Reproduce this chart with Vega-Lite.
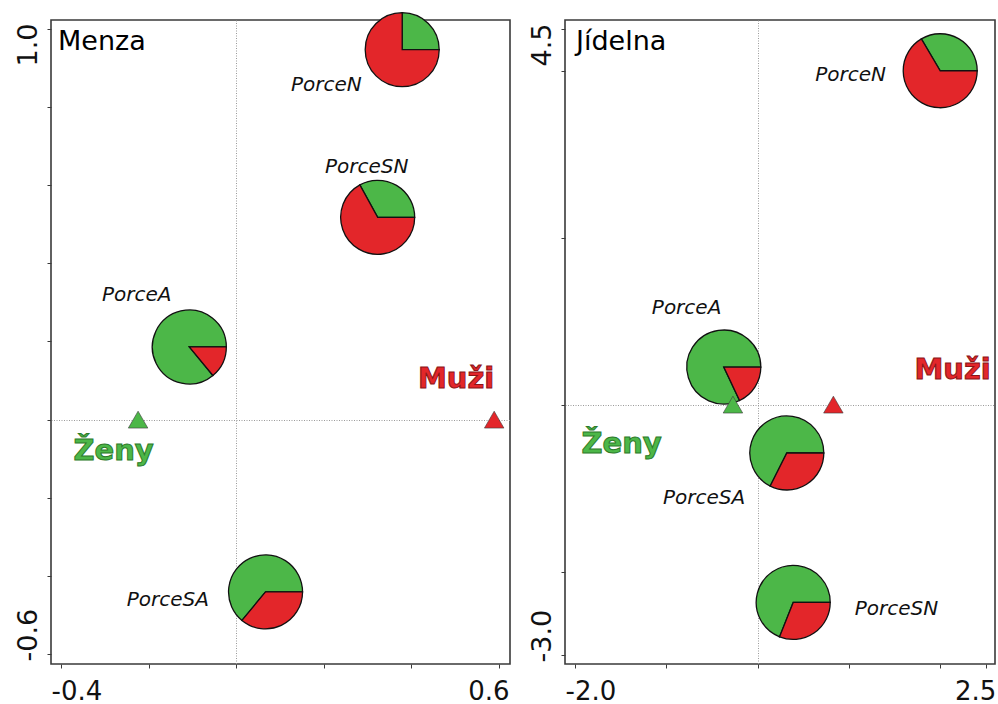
{
  "$schema": "https://vega.github.io/schema/vega-lite/v6.json",
  "background": "white",
  "padding": {"left": 13, "top": 9, "right": 0, "bottom": 0},
  "spacing": 55,
  "bounds": "flush",
  "datasets": {
    "pies": [
      {"panel": "Menza", "item": "PorceN", "x": 0.379, "y": 0.947, "sex": "Ženy", "share": 0.25},
      {"panel": "Menza", "item": "PorceN", "x": 0.379, "y": 0.947, "sex": "Muži", "share": 0.75},
      {"panel": "Menza", "item": "PorceSN", "x": 0.323, "y": 0.518, "sex": "Ženy", "share": 0.33},
      {"panel": "Menza", "item": "PorceSN", "x": 0.323, "y": 0.518, "sex": "Muži", "share": 0.67},
      {"panel": "Menza", "item": "PorceA", "x": -0.107, "y": 0.186, "sex": "Ženy", "share": 0.86},
      {"panel": "Menza", "item": "PorceA", "x": -0.107, "y": 0.186, "sex": "Muži", "share": 0.14},
      {"panel": "Menza", "item": "PorceSA", "x": 0.067, "y": -0.441, "sex": "Ženy", "share": 0.64},
      {"panel": "Menza", "item": "PorceSA", "x": 0.067, "y": -0.441, "sex": "Muži", "share": 0.36},
      {"panel": "Jídelna", "item": "PorceN", "x": 2.0, "y": 4.0, "sex": "Ženy", "share": 0.335},
      {"panel": "Jídelna", "item": "PorceN", "x": 2.0, "y": 4.0, "sex": "Muži", "share": 0.665},
      {"panel": "Jídelna", "item": "PorceA", "x": -0.37, "y": 0.45, "sex": "Ženy", "share": 0.82},
      {"panel": "Jídelna", "item": "PorceA", "x": -0.37, "y": 0.45, "sex": "Muži", "share": 0.18},
      {"panel": "Jídelna", "item": "PorceSA", "x": 0.32, "y": -0.58, "sex": "Ženy", "share": 0.676},
      {"panel": "Jídelna", "item": "PorceSA", "x": 0.32, "y": -0.58, "sex": "Muži", "share": 0.324},
      {"panel": "Jídelna", "item": "PorceSN", "x": 0.39, "y": -2.37, "sex": "Ženy", "share": 0.69},
      {"panel": "Jídelna", "item": "PorceSN", "x": 0.39, "y": -2.37, "sex": "Muži", "share": 0.31}
    ],
    "sexes": [
      {"panel": "Menza", "sex": "Ženy", "x": -0.224, "y": 0},
      {"panel": "Menza", "sex": "Muži", "x": 0.589, "y": 0},
      {"panel": "Jídelna", "sex": "Ženy", "x": -0.27, "y": 0},
      {"panel": "Jídelna", "sex": "Muži", "x": 0.83, "y": 0}
    ],
    "pieLabels": [
      {"panel": "Menza", "text": "PorceN", "x": 0.206, "y": 0.841},
      {"panel": "Menza", "text": "PorceSN", "x": 0.298, "y": 0.631},
      {"panel": "Menza", "text": "PorceA", "x": -0.227, "y": 0.304},
      {"panel": "Menza", "text": "PorceSA", "x": -0.156, "y": -0.477},
      {"panel": "Jídelna", "text": "PorceN", "x": 1.019, "y": 3.877},
      {"panel": "Jídelna", "text": "PorceA", "x": -0.778, "y": 1.085},
      {"panel": "Jídelna", "text": "PorceSA", "x": -0.586, "y": -1.19},
      {"panel": "Jídelna", "text": "PorceSN", "x": 1.52, "y": -2.52}
    ],
    "sexLabels": [
      {"panel": "Menza", "sex": "Ženy", "x": -0.28, "y": -0.103},
      {"panel": "Menza", "sex": "Muži", "x": 0.502, "y": 0.081},
      {"panel": "Jídelna", "sex": "Ženy", "x": -1.49, "y": -0.58},
      {"panel": "Jídelna", "sex": "Muži", "x": 2.136, "y": 0.307}
    ],
    "panelNames": [
      {"panel": "Menza", "x": -0.4068, "y": 0.9462},
      {"panel": "Jídelna", "x": -1.989, "y": 4.2484}
    ]
  },
  "hconcat": [
    {
      "width": 459,
      "height": 644,
      "encoding": {
        "x": {
          "field": "x", "type": "quantitative", "title": null,
          "scale": {"domain": [-0.42283, 0.62511], "nice": false, "zero": false},
          "axis": {
            "values": [-0.4, -0.2, 0, 0.2, 0.4, 0.6],
            "labelExpr": "datum.value === -0.4 ? '-0.4' : datum.value === 0.6 ? '0.6' : ''",
            "labelFlush": 12, "labelFlushOffset": 10, "labelPadding": 10, "labelFontSize": 26
          }
        },
        "y": {
          "field": "y", "type": "quantitative", "title": null,
          "scale": {"domain": [-0.6256, 1.02304], "nice": false, "zero": false},
          "axis": {
            "values": [1, 0.8, 0.6, 0.4, 0.2, 0, -0.2, -0.4, -0.6],
            "labelExpr": "datum.value === 1 ? '1.0' : datum.value === -0.6 ? '-0.6' : ''",
            "labelAngle": 270, "labelFlush": false, "labelBaseline": "alphabetic", "labelPadding": 11,
            "labelAlign": {"condition": {"test": "datum.value < 0", "value": "left"}, "value": "right"},
            "labelOffset": {"condition": {"test": "datum.value < 0", "value": 7}, "value": -6}
          }
        }
      },
      "layer": [
        {
          "data": {"name": "pies"},
          "transform": [
            {"filter": "datum.panel === 'Menza'"},
            {"stack": "share", "groupby": ["item"], "offset": "normalize", "sort": [{"field": "sex", "order": "descending"}], "as": ["s0", "s1"]}
          ],
          "mark": {"type": "arc", "radius": 37, "stroke": "#111111", "strokeWidth": 1.3},
          "encoding": {
            "theta": {"field": "s0", "type": "quantitative", "stack": null, "scale": {"domain": [0, 1], "range": [1.5707963, -4.712389], "zero": false, "nice": false}},
            "theta2": {"field": "s1"},
            "color": {"field": "sex", "type": "nominal", "scale": {"domain": ["Ženy", "Muži"], "range": ["#4cb748", "#e3262a"]}, "legend": null}
          }
        },
        {
          "data": {"name": "sexes"},
          "transform": [{"filter": "datum.panel === 'Menza'"}],
          "mark": {"type": "point", "shape": "triangle-up", "filled": true, "size": 380, "opacity": 1, "stroke": "#3a3a3a", "strokeWidth": 0.6},
          "encoding": {
            "color": {"field": "sex", "type": "nominal", "legend": null}
          }
        },
        {
          "data": {"name": "pieLabels"},
          "transform": [{"filter": "datum.panel === 'Menza'"}],
          "mark": {"type": "text", "font": "DejaVu Sans", "fontStyle": "italic", "fontSize": 20, "align": "center", "baseline": "alphabetic", "color": "#111111"},
          "encoding": {"text": {"field": "text"}}
        },
        {
          "data": {"name": "sexLabels"},
          "transform": [{"filter": "datum.panel === 'Menza'"}],
          "mark": {"type": "text", "font": "DejaVu Sans", "fontWeight": "bold", "fontSize": 29, "align": "center", "baseline": "alphabetic", "strokeWidth": 1},
          "encoding": {
            "text": {"field": "sex"},
            "color": {"field": "sex", "type": "nominal", "legend": null},
            "stroke": {"field": "sex", "type": "nominal", "scale": {"domain": ["Ženy", "Muži"], "range": ["#2c7a2a", "#8a1517"]}, "legend": null}
          }
        },
        {
          "data": {"name": "panelNames"},
          "transform": [{"filter": "datum.panel === 'Menza'"}],
          "mark": {"type": "text", "font": "DejaVu Sans", "fontSize": 27, "align": "left", "baseline": "alphabetic", "color": "#000000"},
          "encoding": {"text": {"field": "panel"}}
        }
      ]
    },
    {
      "width": 430,
      "height": 644,
      "encoding": {
        "x": {
          "field": "x", "type": "quantitative", "title": null,
          "scale": {"domain": [-2.1095, 2.6002], "nice": false, "zero": false},
          "axis": {
            "values": [-2, -1, 0, 1, 2, 2.5],
            "labelExpr": "datum.value === -2 ? '-2.0' : datum.value === 2.5 ? '2.5' : ''",
            "labelFlush": 12, "labelFlushOffset": 10, "labelPadding": 10, "labelFontSize": 26
          }
        },
        "y": {
          "field": "y", "type": "quantitative", "title": null,
          "scale": {"domain": [-3.1079, 4.6078], "nice": false, "zero": false},
          "axis": {
            "values": [4.5, 4, 2, 0, -2, -3],
            "labelExpr": "datum.value === 4.5 ? '4.5' : datum.value === -3 ? '-3.0' : ''",
            "labelAngle": 270, "labelFlush": false, "labelBaseline": "alphabetic", "labelPadding": 11,
            "labelAlign": {"condition": {"test": "datum.value < 0", "value": "left"}, "value": "right"},
            "labelOffset": {"condition": {"test": "datum.value < 0", "value": 7}, "value": -6}
          }
        }
      },
      "layer": [
        {
          "data": {"name": "pies"},
          "transform": [
            {"filter": "datum.panel === 'Jídelna'"},
            {"stack": "share", "groupby": ["item"], "offset": "normalize", "sort": [{"field": "sex", "order": "descending"}], "as": ["s0", "s1"]}
          ],
          "mark": {"type": "arc", "radius": 37, "stroke": "#111111", "strokeWidth": 1.3},
          "encoding": {
            "theta": {"field": "s0", "type": "quantitative", "stack": null, "scale": {"domain": [0, 1], "range": [1.5707963, -4.712389], "zero": false, "nice": false}},
            "theta2": {"field": "s1"},
            "color": {"field": "sex", "type": "nominal", "scale": {"domain": ["Ženy", "Muži"], "range": ["#4cb748", "#e3262a"]}, "legend": null}
          }
        },
        {
          "data": {"name": "sexes"},
          "transform": [{"filter": "datum.panel === 'Jídelna'"}],
          "mark": {"type": "point", "shape": "triangle-up", "filled": true, "size": 380, "opacity": 1, "stroke": "#3a3a3a", "strokeWidth": 0.6},
          "encoding": {
            "color": {"field": "sex", "type": "nominal", "legend": null}
          }
        },
        {
          "data": {"name": "pieLabels"},
          "transform": [{"filter": "datum.panel === 'Jídelna'"}],
          "mark": {"type": "text", "font": "DejaVu Sans", "fontStyle": "italic", "fontSize": 20, "align": "center", "baseline": "alphabetic", "color": "#111111"},
          "encoding": {"text": {"field": "text"}}
        },
        {
          "data": {"name": "sexLabels"},
          "transform": [{"filter": "datum.panel === 'Jídelna'"}],
          "mark": {"type": "text", "font": "DejaVu Sans", "fontWeight": "bold", "fontSize": 29, "align": "center", "baseline": "alphabetic", "strokeWidth": 1},
          "encoding": {
            "text": {"field": "sex"},
            "color": {"field": "sex", "type": "nominal", "legend": null},
            "stroke": {"field": "sex", "type": "nominal", "scale": {"domain": ["Ženy", "Muži"], "range": ["#2c7a2a", "#8a1517"]}, "legend": null}
          }
        },
        {
          "data": {"name": "panelNames"},
          "transform": [{"filter": "datum.panel === 'Jídelna'"}],
          "mark": {"type": "text", "font": "DejaVu Sans", "fontSize": 27, "align": "left", "baseline": "alphabetic", "color": "#000000"},
          "encoding": {"text": {"field": "panel"}}
        }
      ]
    }
  ],
  "config": {
    "view": {"stroke": "#3a3a3a", "strokeWidth": 1.6},
    "axis": {
      "domain": false,
      "ticks": true,
      "tickSize": 4,
      "tickColor": "#3a3a3a",
      "tickWidth": 1,
      "labelFont": "DejaVu Sans",
      "labelFontSize": 27,
      "labelColor": "#111111",
      "labelOverlap": false,
      "grid": true,
      "gridColor": "#9a9a9a",
      "gridWidth": 1,
      "gridDash": [1, 1.5],
      "gridOpacity": {"condition": {"test": "datum.value === 0", "value": 1}, "value": 0}
    }
  }
}
